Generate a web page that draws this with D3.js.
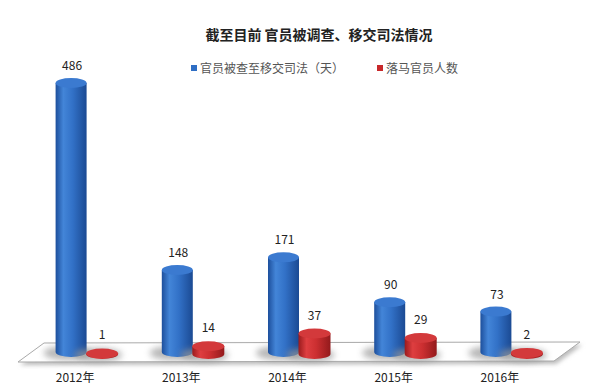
<!DOCTYPE html>
<html>
<head>
<meta charset="utf-8">
<script src="https://cdn.jsdelivr.net/npm/d3@7"></script>
<style>
  body { margin: 0; background: #fff; }
  text { font-family: "Noto Sans CJK SC", "Noto Sans", sans-serif; }
</style>
</head>
<body>
<svg id="chart" width="600" height="392"></svg>
<script>
var years = ["2012年", "2013年", "2014年", "2015年", "2016年"];
var days = [486, 148, 171, 90, 73];
var officials = [1, 14, 37, 29, 2];
var seriesNames = ["官员被查至移交司法（天）", "落马官员人数"];

var width = 600, height = 392;
var svg = d3.select("#chart");

var x = d3.scaleBand().domain(years).range([34, 565]).padding(0);
var y = d3.scaleLinear().domain([0, 486]).range([352, 83]);

var defs = svg.append("defs");
function grad(id, stops) {
  var g = defs.append("linearGradient").attr("id", id)
    .attr("x1", "0%").attr("x2", "100%").attr("y1", "0%").attr("y2", "0%");
  stops.forEach(function(s) {
    g.append("stop").attr("offset", s[0]).attr("stop-color", s[1]);
  });
}
grad("blueG", [["0%", "#1d4f9c"], ["25%", "#4385d8"], ["55%", "#3271c7"], ["100%", "#1b4a93"]]);
grad("redG", [["0%", "#9a1b1d"], ["25%", "#de3e40"], ["55%", "#cc2f31"], ["100%", "#931a1c"]]);
defs.append("filter").attr("id", "blur").attr("x", "-50%").attr("y", "-50%")
  .attr("width", "200%").attr("height", "200%")
  .append("feGaussianBlur").attr("stdDeviation", 3);
defs.append("filter").attr("id", "blur2").attr("x", "-20%").attr("y", "-50%")
  .attr("width", "140%").attr("height", "200%")
  .append("feGaussianBlur").attr("stdDeviation", 2);

// title
svg.append("text").attr("x", 319).attr("y", 40).attr("text-anchor", "middle")
  .attr("font-size", 14).attr("font-weight", "bold").attr("fill", "#222")
  .text("截至目前 官员被调查、移交司法情况");

// legend
var legend = [{x: 191, c: "#2f6ec4"}, {x: 377, c: "#c8282a"}];
legend.forEach(function(l, i) {
  svg.append("rect").attr("x", l.x).attr("y", 65).attr("width", 6).attr("height", 6).attr("fill", l.c);
  svg.append("text").attr("x", l.x + 9).attr("y", 72.5).attr("font-size", 12).attr("fill", "#555")
    .text(seriesNames[i]);
});

// floor
var floor = [[44, 343], [580, 342], [554, 361], [18, 362]];
svg.append("polygon").attr("points", floor.map(function(p) { return [p[0] + 2, p[1] + 3]; }).join(" "))
  .attr("fill", "#bbb").attr("filter", "url(#blur2)");
svg.append("polygon").attr("points", floor.join(" "))
  .attr("fill", "#fff").attr("stroke", "#aaa").attr("stroke-width", 1);

function cylinder(g, cx, base, top, rx, ry, fill, topFill) {
  g.append("ellipse").attr("cx", cx - 4).attr("cy", base + 1).attr("rx", rx + 8).attr("ry", ry + 2)
    .attr("fill", "#999").attr("opacity", 0.7).attr("filter", "url(#blur)");
  g.append("path")
    .attr("d", "M" + (cx - rx) + "," + top +
      " L" + (cx - rx) + "," + base +
      " A" + rx + "," + ry + " 0 0 0 " + (cx + rx) + "," + base +
      " L" + (cx + rx) + "," + top + " Z")
    .attr("fill", fill);
  g.append("ellipse").attr("cx", cx).attr("cy", top).attr("rx", rx).attr("ry", ry).attr("fill", topFill);
}

var groups = svg.selectAll("g.year").data(years).enter().append("g").attr("class", "year");
groups.each(function(d, i) {
  var g = d3.select(this);
  var c = x(d) + x.bandwidth() / 2;
  var bx = c - 16, rxc = c + 15;
  cylinder(g, bx, y(0), y(days[i]), 15.5, 5, "url(#blueG)", "#3b7ad0");
  cylinder(g, rxc, y(0) + 2, y(officials[i]) + 2, 16, 5, "url(#redG)", "#d3393b");
  g.append("text").attr("x", bx + 1).attr("y", y(days[i]) - 13).attr("text-anchor", "middle")
    .attr("font-size", 12).attr("fill", "#222").text(days[i]);
  g.append("text").attr("x", rxc).attr("y", y(officials[i]) - 12).attr("text-anchor", "middle")
    .attr("font-size", 12).attr("fill", "#222").text(officials[i]);
  g.append("text").attr("x", bx + 4).attr("y", 382).attr("text-anchor", "middle")
    .attr("font-size", 12).attr("fill", "#222").text(d);
});
</script>
</body>
</html>
